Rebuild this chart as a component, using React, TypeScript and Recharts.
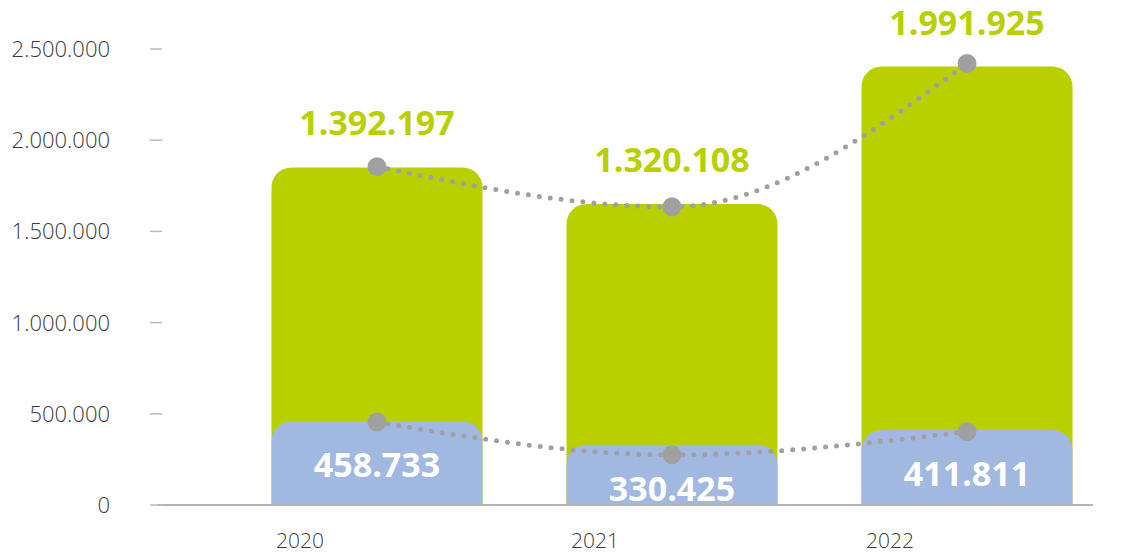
import React from 'react';
import { ComposedChart, Bar, Line, XAxis, YAxis, LabelList } from 'recharts';

const years = ['2020', '2021', '2022'];
const greenValues = [1392197, 1320108, 1991925];
const blueValues = [458733, 330425, 411811];
// trend lines
const upperLine = [1855000, 1635000, 2420000];
const lowerLine = [455000, 275000, 402000];
const yTicks = [0, 500000, 1000000, 1500000, 2000000, 2500000];

const GREEN = '#b9cf00';
const BLUE = '#a1b8e1';
const GREY = '#a0a0a0';
const FONT = '"Open Sans", "Noto Sans", sans-serif';

// dots as thousand separators
const fmt = (v: number) => String(v).replace(/\B(?=(\d{3})+(?!\d))/g, '.');

const data = years.map((year, i) => ({
    year,
    green: greenValues[i],
    blue: blueValues[i],
    total: greenValues[i] + blueValues[i],
    upper: upperLine[i],
    lower: lowerLine[i],
}));

function YTick({ y, payload }: any) {
    return (
        <g>
            <text x={110} y={y} dy="0.36em" textAnchor="end" fontSize={22} fontWeight={300} fill="#3a3a3a" fontFamily={FONT}>
                {fmt(payload.value)}
            </text>
            <line x1={150} x2={162} y1={y} y2={y} stroke="#bbb" strokeWidth={1.5} />
        </g>
    );
}

function XTick({ x, y, payload }: any) {
    return (
        <text x={x - 77} y={y} dy={35} textAnchor="middle" fontSize={21} fontWeight={300} fill="#3a3a3a" fontFamily={FONT}>
            {payload.value}
        </text>
    );
}

function Dot({ cx, cy }: any) {
    return <circle cx={cx} cy={cy} r={9.5} fill={GREY} />;
}

export default function App() {
    return (
        <div style={{ position: 'absolute', left: 0, top: 0, width: 1146, height: 554, background: '#fff' }}>
            <ComposedChart width={1146} height={554} data={data} barGap={-211} margin={{ top: 49, right: 53, bottom: 0, left: 0 }}>
                <XAxis
                    dataKey="year"
                    height={49}
                    padding={{ left: 72.5, right: -21.5 }}
                    axisLine={{ stroke: '#b4b4b4', strokeWidth: 2 }}
                    tickLine={false}
                    tick={<XTick />}
                />
                <YAxis
                    width={157}
                    domain={[0, 2500000]}
                    ticks={yTicks}
                    axisLine={false}
                    tickLine={false}
                    tick={<YTick />}
                />
                <Bar dataKey="total" fill={GREEN} barSize={211} radius={[20, 20, 0, 0]} isAnimationActive={false}>
                    <LabelList
                        dataKey="green"
                        position="top"
                        offset={32}
                        formatter={(v: any) => fmt(v)}
                        fill={GREEN}
                        fontSize={34}
                        fontWeight={700}
                        fontFamily={FONT}
                    />
                </Bar>
                <Bar dataKey="blue" fill={BLUE} barSize={211} radius={[20, 20, 0, 0]} isAnimationActive={false}>
                    <LabelList
                        dataKey="blue"
                        position="insideTop"
                        offset={32}
                        formatter={(v: any) => fmt(v)}
                        fill="#fff"
                        fontSize={34}
                        fontWeight={700}
                        fontFamily={FONT}
                    />
                </Bar>
                <Line
                    dataKey="upper"
                    type="monotone"
                    stroke={GREY}
                    strokeWidth={5}
                    strokeDasharray="0 11"
                    strokeLinecap="round"
                    dot={<Dot />}
                    activeDot={false}
                    isAnimationActive={false}
                />
                <Line
                    dataKey="lower"
                    type="monotone"
                    stroke={GREY}
                    strokeWidth={5}
                    strokeDasharray="0 11"
                    strokeLinecap="round"
                    dot={<Dot />}
                    activeDot={false}
                    isAnimationActive={false}
                />
            </ComposedChart>
        </div>
    );
}
